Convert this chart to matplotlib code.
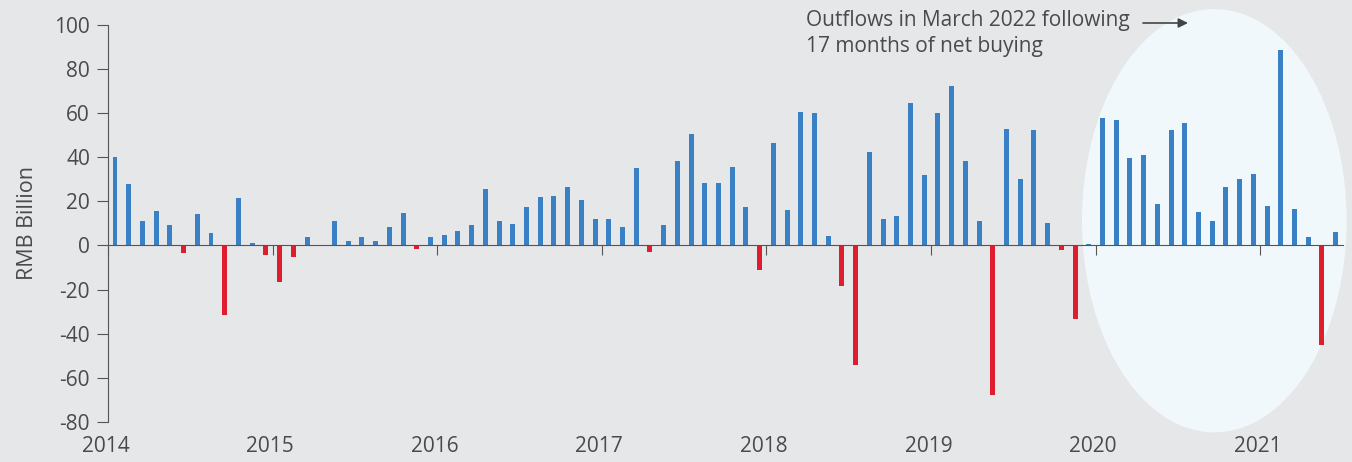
import matplotlib.pyplot as plt
from matplotlib.patches import Ellipse

plt.rcParams['font.family'] = ['Open Sans', 'DejaVu Sans']
plt.rcParams['axes.unicode_minus'] = False

# Monthly net flows, RMB billion (Jan 2014 ... Jun 2021 as labelled)
flows = [
    40.3, 27.8, 11.3, 15.7, 9.4, -3.6, 14.2, 5.6, -31.7, 21.5, 1.2, -4.5,
    -16.8, -5.4, 3.6, 0.3, 10.9, 2.1, 3.6, 2.1, 8.5, 14.8, -1.8, 3.6,
    4.8, 6.5, 9.4, 25.7, 10.9, 9.8, 17.5, 21.9, 22.4, 26.7, 20.5, 11.8,
    12.2, 8.3, 34.9, -2.9, 9.4, 38.2, 50.5, 28.3, 28.3, 35.5, 17.5, -11.0,
    46.5, 16.2, 60.4, 60.0, 4.1, -18.3, -54.1, 42.2, 11.8, 13.3, 64.4, 32.0,
    60.0, 72.5, 38.2, 11.3, -67.7, 52.7, 30.1, 52.3, 10.3, -2.3, -33.2, 0.5,
    57.6, 57.1, 39.7, 41.1, 18.6, 52.3, 55.6, 15.3, 10.9, 26.7, 30.1, 32.5,
    18.0, 88.5, 16.6, 3.6, -45.0, 6.0,
]
years = ['2014', '2015', '2016', '2017', '2018', '2019', '2020', '2021']

bg = '#e6e7e9'
blue = '#3a80c4'
red = '#e01c2f'
txt = '#4a4a4a'

fig, ax = plt.subplots(figsize=(13.52, 4.62), dpi=100)
fig.patch.set_facecolor(bg)
ax.set_facecolor(bg)
fig.subplots_adjust(left=0.08, right=0.993, top=0.946, bottom=0.087)

# highlight ellipse behind the recent bars
ax.add_patch(Ellipse((80.15, 11.2), 19.3, 192, facecolor='#f0f8fb',
                     edgecolor='none', zorder=0, clip_on=False))

months = range(len(flows))
colors = [blue if v >= 0 else red for v in flows]
ax.bar(months, flows, width=0.36, color=colors, zorder=2)

ax.set_xlim(-0.5, len(flows) - 0.5)
ax.set_ylim(-80, 100)
ax.set_yticks(range(-80, 101, 20))

for s in ['top', 'right']:
    ax.spines[s].set_visible(False)
ax.spines['bottom'].set_position(('data', 0))
ax.spines['bottom'].set_color('#555555')
ax.spines['left'].set_color('#555555')
ax.spines['bottom'].set_zorder(3)

tick_pos = [-0.5 + 12 * k for k in range(len(years))]
ax.set_xticks(tick_pos)
ax.tick_params(axis='x', length=7, color='#555555', labelbottom=False)
ax.tick_params(axis='y', length=8, color='#555555', labelcolor=txt, labelsize=15, pad=5)

for p, lab in zip(tick_pos, years):
    ax.text(p - 0.2, -0.035, lab, transform=ax.get_xaxis_transform(),
            ha='center', va='top', fontsize=15, color=txt)

ax.set_ylabel('RMB Billion', fontsize=15.5, color=txt, labelpad=12)

fig.text(0.596, 0.928, 'Outflows in March 2022 following\n17 months of net buying',
         ha='left', va='center', fontsize=15, color=txt, linespacing=1.3)
ax.annotate('', xy=(1188, 439), xytext=(1143, 439), xycoords='figure pixels',
            textcoords='figure pixels',
            arrowprops=dict(arrowstyle='-|>', color='#444444', lw=1.2,
                            mutation_scale=14, shrinkA=0, shrinkB=0))

plt.savefig('out.png', dpi=100, facecolor=bg)
